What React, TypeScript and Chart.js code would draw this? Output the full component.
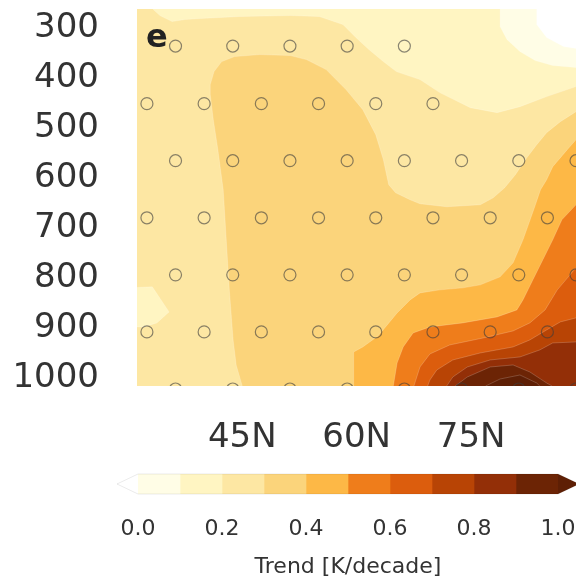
import React, { useEffect, useRef } from 'react';
import { Chart, registerables } from 'chart.js';

Chart.register(...registerables);

const FONT = "'DejaVu Sans', sans-serif";
const TEXT = '#333333';

// ---- axes ----
const panelLabel = 'e';
const latRange = [31.2, 88.75];
const presRange = [266, 1019];
const xTickValues = [45, 60, 75];
const yTickValues = [300, 400, 500, 600, 700, 800, 900, 1000];

// ---- colour levels (K/decade) ----
const levels = [0.0, 0.1, 0.2, 0.3, 0.4, 0.5, 0.6, 0.7, 0.8, 0.9, 1.0];
const cbTickValues = [0.0, 0.2, 0.4, 0.6, 0.8, 1.0];
const binColors = ['#fffde6', '#fff5c2', '#fde7a3', '#fbd47b', '#fdb846', '#ef7d1b', '#dc5d0d', '#b84405', '#932f07', '#6c2405'];
const underColor = '#ffffff';
const overColor = '#5e1f05';
const cbTitle = 'Trend [K/decade]';

// ---- contour polygons, [latitude (deg N), pressure (hPa)] ----
const domain = [[30, 250], [90, 250], [90, 1030], [30, 1030]];
const below02Top = [[33.0, 250], [33.2, 265], [34.2, 279], [35.8, 291], [37.5, 287], [39.5, 285], [44.7, 281], [51.3, 279], [55.1, 281], [58.2, 297], [59.9, 323], [61.6, 347], [63.5, 371], [65.2, 391], [68.3, 407], [70.9, 433], [74.9, 463], [78.4, 473], [81.4, 461], [84.9, 441], [88.75, 421], [90, 421], [90, 250]];
const below01Top = [[78.8, 250], [78.8, 301], [79.7, 327], [81.4, 351], [83.4, 369], [85.7, 379], [88.75, 383], [90, 383], [90, 250]];
const below00Top = [[83.6, 250], [83.6, 297], [84.9, 323], [87.1, 341], [88.75, 345], [90, 345], [90, 250]];
const below02Blob = [[30, 823], [33.2, 821], [35.4, 871], [33.8, 893], [32.1, 901], [30, 901]];
const above03 = [[40.8, 437], [40.8, 417], [41.3, 391], [42.3, 371], [44.0, 361], [47.3, 357], [51.3, 359], [53.4, 367], [56.0, 387], [58.6, 427], [60.8, 467], [62.5, 517], [63.5, 567], [64.2, 617], [65.1, 633], [67.0, 647], [68.3, 655], [71.8, 661], [76.2, 657], [77.9, 643], [79.4, 623], [80.8, 597], [82.3, 563], [83.6, 537], [84.9, 513], [86.7, 491], [88.75, 471], [90, 471], [90, 1030], [45.0, 1030], [45.0, 1019], [44.2, 977], [43.8, 927], [43.3, 827], [42.9, 727], [42.5, 627], [41.8, 547], [41.2, 487]];
const above04 = [[88.75, 527], [87.6, 547], [85.7, 581], [84.9, 607], [84.1, 627], [83.2, 667], [81.8, 727], [80.5, 773], [78.8, 801], [76.2, 817], [73.9, 823], [70.9, 827], [68.3, 833], [67.0, 847], [65.3, 873], [64.0, 897], [62.8, 919], [60.8, 941], [59.6, 951], [59.6, 1030], [90, 1030], [90, 527]];
const above05 = [[88.75, 657], [86.9, 687], [85.7, 727], [84.4, 767], [83.1, 807], [81.8, 847], [81.0, 867], [78.4, 881], [73.9, 893], [69.6, 901], [67.4, 913], [66.1, 941], [65.3, 973], [64.8, 1019], [64.8, 1030], [90, 1030], [90, 657]];
const above06 = [[88.75, 783], [86.3, 827], [84.7, 867], [82.7, 893], [80.5, 909], [76.6, 923], [72.2, 937], [69.6, 955], [68.3, 981], [67.5, 1019], [67.5, 1030], [90, 1030], [90, 783]];
const above07 = [[88.75, 883], [86.7, 891], [84.9, 907], [82.7, 927], [80.5, 941], [76.2, 953], [72.6, 967], [70.5, 987], [69.6, 1007], [69.3, 1019], [69.3, 1030], [90, 1030], [90, 883]];
const above08 = [[88.75, 931], [85.7, 933], [84.0, 947], [81.4, 961], [77.5, 967], [74.5, 981], [72.6, 1001], [71.8, 1019], [71.8, 1030], [90, 1030], [90, 931]];
const above09 = [[72.9, 1030], [72.9, 1019], [74.5, 1001], [77.5, 981], [80.5, 977], [82.7, 991], [84.9, 1013], [85.6, 1019], [85.6, 1030]];
const above10 = [[76.9, 1030], [76.9, 1019], [78.8, 1005], [81.4, 997], [83.6, 1013], [84.0, 1019], [84.0, 1030]];

// ---- significance stippling ----
const stippleLat = [
  36.25, 43.75, 51.25, 58.75, 66.25,
  32.5, 40, 47.5, 55, 62.5, 70,
  36.25, 43.75, 51.25, 58.75, 66.25, 73.75, 81.25, 88.75,
  32.5, 40, 47.5, 55, 62.5, 70, 77.5, 85,
  36.25, 43.75, 51.25, 58.75, 66.25, 73.75, 81.25, 88.75,
  32.5, 40, 47.5, 55, 62.5, 70, 77.5, 85,
  36.25, 43.75, 51.25, 58.75, 66.25, 73.75, 81.25, 88.75,
];
const stipplePres = [
  340, 340, 340, 340, 340,
  455, 455, 455, 455, 455, 455,
  569, 569, 569, 569, 569, 569, 569, 569,
  683, 683, 683, 683, 683, 683, 683, 683,
  797, 797, 797, 797, 797, 797, 797, 797,
  911, 911, 911, 911, 911, 911, 911, 911,
  1025, 1025, 1025, 1025, 1025, 1025, 1025, 1025,
];

const regions = [
  { poly: domain, color: binColors[2], edge: false },
  { poly: below02Top, color: binColors[1], edge: true },
  { poly: below01Top, color: binColors[0], edge: true },
  { poly: below00Top, color: underColor, edge: true },
  { poly: below02Blob, color: binColors[1], edge: true },
  { poly: above03, color: binColors[3], edge: true },
  { poly: above04, color: binColors[4], edge: true },
  { poly: above05, color: binColors[5], edge: true },
  { poly: above06, color: binColors[6], edge: true },
  { poly: above07, color: binColors[7], edge: true },
  { poly: above08, color: binColors[8], edge: true },
  { poly: above09, color: binColors[9], edge: true },
  { poly: above10, color: overColor, edge: true },
];

const contourPlugin = {
  id: 'contours',
  beforeDatasetsDraw(chart: any) {
    const { ctx, chartArea: a, scales } = chart;
    const xs = scales.x, ys = scales.y;
    ctx.save();
    ctx.beginPath();
    ctx.rect(a.left, a.top, a.right - a.left, a.bottom - a.top);
    ctx.clip();
    for (const r of regions) {
      ctx.beginPath();
      r.poly.forEach(([lat, p]: number[], i: number) => {
        const px = xs.getPixelForValue(lat);
        const py = ys.getPixelForValue(p);
        if (i === 0) ctx.moveTo(px, py); else ctx.lineTo(px, py);
      });
      ctx.closePath();
      ctx.fillStyle = r.color;
      ctx.fill();
      if (r.edge) {
        ctx.strokeStyle = 'rgba(255,255,255,0.28)';
        ctx.lineWidth = 0.7;
        ctx.stroke();
      }
    }
    ctx.restore();
  },
  afterDatasetsDraw(chart: any) {
    const { ctx, chartArea: a } = chart;
    ctx.save();
    ctx.font = `bold 32px ${FONT}`;
    ctx.fillStyle = '#222222';
    ctx.textAlign = 'left';
    ctx.textBaseline = 'alphabetic';
    ctx.fillText(panelLabel, a.left + 9, a.top + 38);
    ctx.restore();
  },
};

const extendPlugin = {
  id: 'cbExtend',
  afterDatasetsDraw(chart: any) {
    const { ctx, chartArea: a, scales } = chart;
    const xs = scales.x;
    const mid = (a.top + a.bottom) / 2;
    const ext = 0.05;
    const x0 = xs.getPixelForValue(levels[0]);
    const xl = xs.getPixelForValue(levels[0] - ext);
    const x1 = xs.getPixelForValue(levels[levels.length - 1]);
    const xr = xs.getPixelForValue(levels[levels.length - 1] + ext);
    ctx.save();
    ctx.beginPath();
    ctx.moveTo(x0, a.top); ctx.lineTo(xl, mid); ctx.lineTo(x0, a.bottom); ctx.closePath();
    ctx.fillStyle = underColor; ctx.fill();
    ctx.beginPath();
    ctx.moveTo(x1, a.top); ctx.lineTo(xr, mid); ctx.lineTo(x1, a.bottom); ctx.closePath();
    ctx.fillStyle = overColor; ctx.fill();
    ctx.beginPath();
    ctx.moveTo(x0, a.top); ctx.lineTo(x1, a.top); ctx.lineTo(xr, mid); ctx.lineTo(x1, a.bottom);
    ctx.lineTo(x0, a.bottom); ctx.lineTo(xl, mid); ctx.closePath();
    ctx.strokeStyle = 'rgba(0,0,0,0.08)';
    ctx.lineWidth = 1;
    ctx.stroke();
    ctx.restore();
  },
};

export default function App() {
  const mainRef = useRef<HTMLCanvasElement>(null);
  const cbRef = useRef<HTMLCanvasElement>(null);

  useEffect(() => {
    const main = new Chart(mainRef.current as HTMLCanvasElement, {
      type: 'scatter',
      data: {
        datasets: [{
          data: stippleLat.map((lat, i) => ({ x: lat, y: stipplePres[i] })),
          pointRadius: 6,
          pointHoverRadius: 6,
          pointBorderWidth: 1.2,
          pointBorderColor: 'rgba(60,60,60,0.6)',
          pointBackgroundColor: 'rgba(0,0,0,0)',
          clip: 0,
        } as any],
      },
      options: {
        animation: false,
        responsive: false,
        events: [],
        layout: { autoPadding: false, padding: { top: 9, left: 0, right: 0, bottom: 0 } },
        plugins: { legend: { display: false }, tooltip: { enabled: false } },
        scales: {
          x: {
            type: 'linear', min: latRange[0], max: latRange[1],
            grid: { display: false, drawTicks: false }, border: { display: false },
            afterBuildTicks: (s: any) => { s.ticks = xTickValues.map((v) => ({ value: v })); },
            ticks: { callback: (v: any) => `${v}N`, font: { family: FONT, size: 34 }, color: TEXT, padding: 32, maxRotation: 0, autoSkip: false },
            afterFit: (s: any) => { s.height = 74; s.paddingLeft = 0; s.paddingRight = 0; },
          },
          y: {
            type: 'linear', reverse: true, min: presRange[0], max: presRange[1],
            grid: { display: false, drawTicks: false }, border: { display: false },
            afterBuildTicks: (s: any) => { s.ticks = yTickValues.map((v) => ({ value: v })); },
            ticks: { callback: (v: any) => String(v), font: { family: FONT, size: 34 }, color: TEXT, padding: 38, labelOffset: 2, autoSkip: false },
            afterFit: (s: any) => { s.width = 137; s.paddingTop = 0; s.paddingBottom = 0; },
          },
        },
      } as any,
      plugins: [contourPlugin],
    });

    const cb = new Chart(cbRef.current as HTMLCanvasElement, {
      type: 'bar',
      data: {
        labels: [''],
        datasets: binColors.map((c, i) => ({
          data: [levels[i + 1] - levels[i]],
          backgroundColor: c,
          borderWidth: 0,
          barPercentage: 1,
          categoryPercentage: 1,
          stack: 'cb',
        })),
      },
      options: {
        indexAxis: 'y',
        animation: false,
        responsive: false,
        events: [],
        layout: { autoPadding: false, padding: { left: 138, right: 18, top: 14, bottom: 0 } },
        plugins: { legend: { display: false }, tooltip: { enabled: false } },
        scales: {
          x: {
            type: 'linear', stacked: true, min: levels[0], max: levels[levels.length - 1],
            grid: { display: false, drawTicks: false }, border: { display: false },
            afterBuildTicks: (s: any) => { s.ticks = cbTickValues.map((v) => ({ value: v })); },
            ticks: { callback: (v: any) => Number(v).toFixed(1), font: { family: FONT, size: 22 }, color: TEXT, padding: 22, maxRotation: 0, autoSkip: false },
            title: { display: true, text: cbTitle, font: { family: FONT, size: 22, lineHeight: 1 }, color: TEXT, padding: 0 },
            afterFit: (s: any) => { s.height = 84; s.paddingLeft = 0; s.paddingRight = 0; },
          },
          y: { stacked: true, display: false },
        },
      } as any,
      plugins: [extendPlugin],
    });

    return () => { main.destroy(); cb.destroy(); };
  }, []);

  return (
    <div style={{ position: 'absolute', left: 0, top: 0, width: 576, height: 578, overflow: 'hidden', background: '#ffffff' }}>
      <canvas ref={mainRef} width={576} height={460} style={{ position: 'absolute', left: 0, top: 0, width: 576, height: 460 }} />
      <canvas ref={cbRef} width={576} height={118} style={{ position: 'absolute', left: 0, top: 460, width: 576, height: 118 }} />
    </div>
  );
}
